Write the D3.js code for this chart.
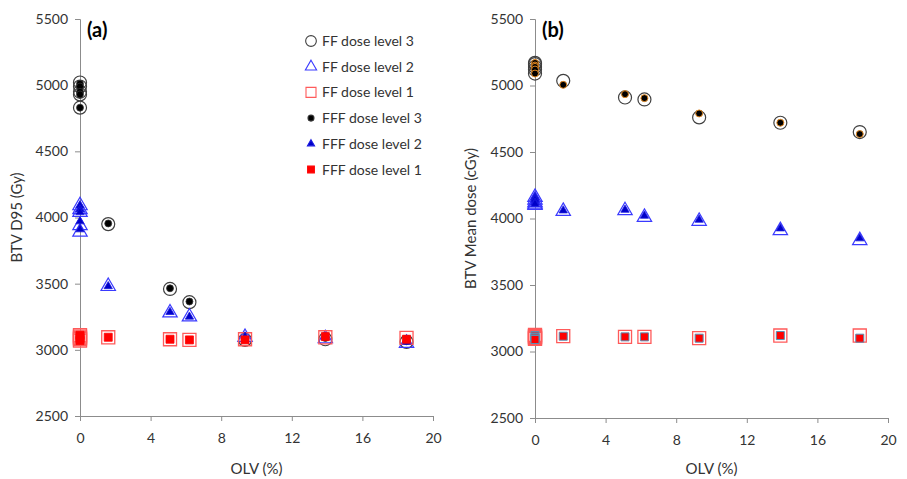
<!DOCTYPE html>
<html>
<head>
<meta charset="utf-8">
<script src="https://cdn.jsdelivr.net/npm/d3@7"></script>
<style>
body { margin: 0; background: #fff; }
text { font-family: Lato, "Open Sans", sans-serif; fill: #333; }
</style>
</head>
<body>
<div id="a"></div>
<script>
// panel (a): BTV D95
var olvA = [0, 0, 0, 0, 0, 1.6, 5.1, 6.2, 9.35, 13.9, 18.5];
var ffL3a = [5020, 4990, 4950, 4930, 4830, 3950, 3460, 3360, 3075, 3080, 3060];
var fffL3a = [5010, 4990, 4950, 4930, 4830, 3955, 3465, 3365, 3080, 3090, 3065];
var ffL2a = [4090, 4060, 4040, 3940, 3890, 3480, 3280, 3250, 3095, 3085, 3050];
var fffL2a = [4090, 4060, 4040, 3970, 3910, 3480, 3285, 3250, 3100, 3095, 3060];
var ffL1a = [3110, 3100, 3090, 3080, 3070, 3095, 3080, 3075, 3080, 3095, 3090];
var fffL1a = [3110, 3100, 3090, 3080, 3070, 3095, 3080, 3075, 3075, 3100, 3080];

// panel (b): BTV mean dose
var olvB = [0, 0, 0, 0, 0, 1.6, 5.1, 6.2, 9.3, 13.9, 18.4];
var ffL3b = [5170, 5160, 5140, 5120, 5090, 5035, 4910, 4895, 4760, 4720, 4650];
var fffL3b = [5170, 5150, 5140, 5120, 5090, 5005, 4935, 4905, 4790, 4720, 4635];
var ffL2b = [4160, 4140, 4120, 4110, 4100, 4055, 4060, 4010, 3980, 3910, 3835];
var fffL2b = [4160, 4150, 4140, 4120, 4110, 4060, 4065, 4020, 3990, 3925, 3850];
var ffL1b = [3125, 3115, 3110, 3100, 3095, 3115, 3110, 3110, 3100, 3120, 3120];
var fffL1b = [3120, 3110, 3105, 3100, 3090, 3115, 3110, 3110, 3100, 3120, 3100];

var xTicks = [0, 4, 8, 12, 16, 20];
var yTicks = [2500, 3000, 3500, 4000, 4500, 5000, 5500];
var legendLabels = ["FF dose level 3", "FF dose level 2", "FF dose level 1",
  "FFF dose level 3", "FFF dose level 2", "FFF dose level 1"];

var svg = d3.select("#a").append("svg")
  .attr("width", 907)
  .attr("height", 479);

// marker styles
var styles = {
  ff3: {type: d3.symbolCircle, size: 133, fill: "none", stroke: "#404040", sw: 1.2},
  ff2: {type: d3.symbolTriangle, size: 90, fill: "none", stroke: "#3a3aff", sw: 1.2},
  ff1: {type: d3.symbolSquare, size: 170, fill: "none", stroke: "#ff5a5a", sw: 1.3},
  fff3: {type: d3.symbolCircle, size: 38, fill: "#000", stroke: "#333", sw: 0.8},
  fff2: {type: d3.symbolTriangle, size: 30, fill: "#0000c8", stroke: "#1a1ae0", sw: 0.8},
  fff1: {type: d3.symbolSquare, size: 64, fill: "#ff0000", stroke: "#ff0000", sw: 0.8}
};

function panel(opt) {
  var x = d3.scaleLinear().domain([0, 20]).range([opt.x0, opt.x1]);
  var y = d3.scaleLinear().domain([2500, 5500]).range([opt.y0, opt.y1]);
  var g = svg.append("g");

  var xa = g.append("g").attr("transform", "translate(0," + opt.y0 + ")")
    .call(d3.axisBottom(x).tickValues(xTicks).tickFormat(d3.format("d")).tickSize(5).tickPadding(12));
  var ya = g.append("g").attr("transform", "translate(" + opt.x0 + ",0)")
    .call(d3.axisLeft(y).tickValues(yTicks).tickFormat(d3.format("d")).tickSize(5).tickPadding(7));
  [xa, ya].forEach(function (a) {
    a.select(".domain").attr("stroke", "#8c8c8c");
    a.selectAll(".tick line").attr("stroke", "#8c8c8c");
    a.selectAll("text").style("font-size", "14px").attr("fill", "#404040");
  });

  g.append("text").attr("x", (opt.x0 + opt.x1) / 2).attr("y", 474)
    .attr("text-anchor", "middle").style("font-size", "15px").text("OLV (%)");
  g.append("text")
    .attr("transform", "translate(" + opt.labX + "," + ((opt.y0 + opt.y1) / 2) + ") rotate(-90)")
    .attr("text-anchor", "middle").style("font-size", "15px").text(opt.yLabel);
  g.append("text").attr("x", opt.x0 + 7).attr("y", 37)
    .style("font-size", "20px").style("font-weight", "bold")
    .style("fill", "#000").text(opt.title);

  opt.series.forEach(function (s) {
    var st = Object.assign({}, styles[s.key], s.over || {});
    g.append("g").selectAll("path")
      .data(s.values)
      .enter()
      .append("path")
      .attr("d", d3.symbol().type(st.type).size(st.size))
      .attr("transform", function (d, i) { return "translate(" + x(opt.olv[i]) + "," + y(d) + ")"; })
      .attr("fill", st.fill)
      .attr("stroke", st.stroke)
      .attr("stroke-width", st.sw);
  });
}

panel({
  x0: 80, x1: 433, y0: 416, y1: 19, labX: 22, title: "(a)",
  yLabel: "BTV D95 (Gy)", olv: olvA,
  series: [
    {key: "ff3", values: ffL3a}, {key: "ff2", values: ffL2a}, {key: "ff1", values: ffL1a},
    {key: "fff3", values: fffL3a}, {key: "fff2", values: fffL2a}, {key: "fff1", values: fffL1a}
  ]
});

panel({
  x0: 535, x1: 888, y0: 418, y1: 19, labX: 476, title: "(b)",
  yLabel: "BTV Mean dose (cGy)", olv: olvB,
  series: [
    {key: "ff3", values: ffL3b}, {key: "ff2", values: ffL2b}, {key: "ff1", values: ffL1b},
    {key: "fff3", values: fffL3b, over: {stroke: "#e0861e", sw: 1}},
    {key: "fff2", values: fffL2b},
    {key: "fff1", values: fffL1b, over: {stroke: "#5a8fb4", sw: 1}}
  ]
});

// legend (panel a)
var legKeys = ["ff3", "ff2", "ff1", "fff3", "fff2", "fff1"];
var legSize = {ff3: 90, ff2: 55, ff1: 100, fff3: 28, fff2: 22, fff1: 45};
var leg = svg.append("g").selectAll("g")
  .data(legendLabels)
  .enter()
  .append("g")
  .attr("transform", function (d, i) { return "translate(311," + (41 + i * 25.7) + ")"; });
leg.append("path")
  .attr("d", function (d, i) { return d3.symbol().type(styles[legKeys[i]].type).size(legSize[legKeys[i]])(); })
  .attr("fill", function (d, i) { return styles[legKeys[i]].fill; })
  .attr("stroke", function (d, i) { return styles[legKeys[i]].stroke; })
  .attr("stroke-width", 1.1);
leg.append("text")
  .attr("x", 11).attr("y", 5)
  .style("font-size", "14px").attr("fill", "#222")
  .text(function (d) { return d; });
</script>
</body>
</html>
